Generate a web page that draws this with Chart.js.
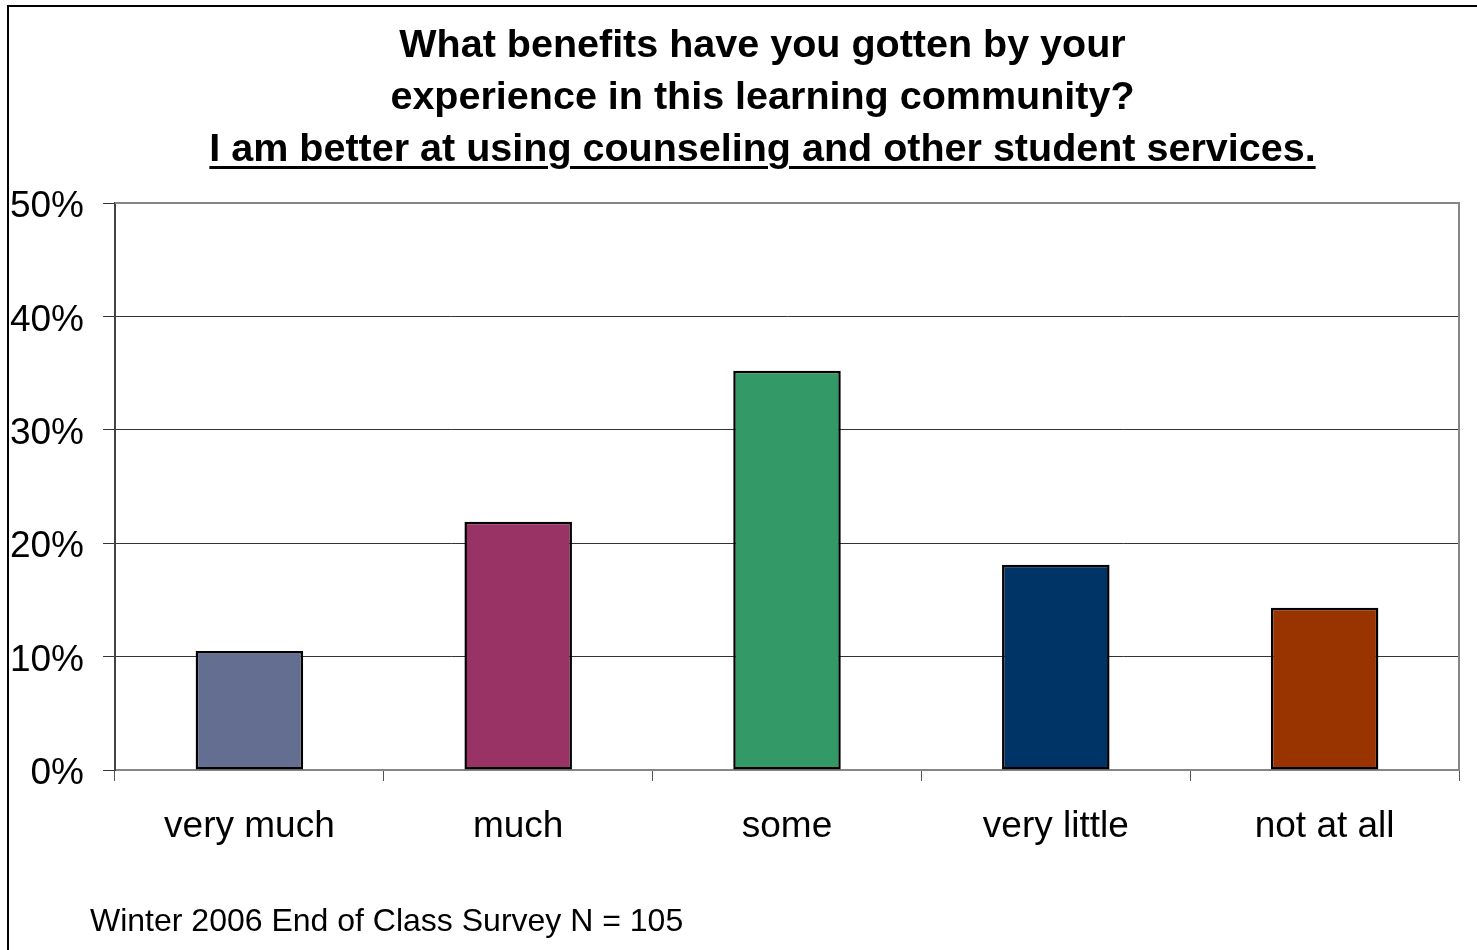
<!DOCTYPE html>
<html>
<head>
<meta charset="utf-8">
<script src="https://cdn.jsdelivr.net/npm/chart.js@4.4.1/dist/chart.umd.min.js"></script>
<style>
  html, body { margin: 0; padding: 0; background: #fff; }
  #wrap { position: relative; width: 1477px; height: 950px; overflow: hidden; font-family: "Liberation Sans", Arial, sans-serif; }
  #frame { position: absolute; left: 7px; top: 5px; right: -10px; bottom: -10px; border-top: 2px solid #000; border-left: 2px solid #000; }
  #title { position: absolute; left: 0; width: 1525px; top: 17px; text-align: center; font-weight: bold; font-size: 39.5px; line-height: 52px; color: #000; }
  #title u { text-decoration-thickness: 3px; text-underline-offset: 5px; }
  #note { position: absolute; left: 90px; top: 902px; font-size: 32px; color: #000; }
  canvas { position: absolute; left: 0; top: 0; }
</style>
</head>
<body>
<div id="wrap">
  <canvas id="benefitsChart" width="1477" height="950"></canvas>
  <div id="frame"></div>
  <div id="title">What benefits have you gotten by your<br>experience in this learning community?<br><u>I am better at using counseling and other student services.</u></div>
  <div id="note">Winter 2006 End of Class Survey N = 105</div>
</div>
<script>
const categories = ['very much', 'much', 'some', 'very little', 'not at all'];
// share of the 105 respondents, in percent
const percentages = [10.5, 21.9, 35.2, 18.1, 14.3];
const barColors = ['#636E90', '#993366', '#339966', '#003366', '#993300'];
const yTicks = [0, 10, 20, 30, 40, 50];

// gray frame on top and right of the plot area
const plotFrame = {
  id: 'plotFrame',
  afterDraw(chart) {
    const a = chart.chartArea;
    const ctx = chart.ctx;
    ctx.save();
    ctx.strokeStyle = '#868686';
    ctx.lineWidth = 2;
    ctx.beginPath();
    ctx.moveTo(a.left, a.top);
    ctx.lineTo(a.right, a.top);
    ctx.lineTo(a.right, a.bottom);
    ctx.stroke();
    ctx.restore();
  }
};

new Chart(document.getElementById('benefitsChart'), {
  type: 'bar',
  data: {
    labels: categories,
    datasets: [{
      data: percentages,
      backgroundColor: barColors,
      borderColor: '#000',
      borderWidth: 2.5,
      borderSkipped: false,
      barPercentage: 0.4,
      categoryPercentage: 1
    }]
  },
  plugins: [plotFrame],
  options: {
    responsive: false,
    animation: false,
    layout: { padding: { top: 203, right: 18, left: 0, bottom: 0 } },
    plugins: {
      legend: { display: false },
      tooltip: { enabled: false }
    },
    scales: {
      x: {
        afterFit(scale) { scale.height = 180; },
        grid: { drawOnChartArea: false, color: '#555', tickLength: 11, offset: true },
        border: { color: '#868686', width: 2 },
        ticks: { color: '#000', padding: 24, font: { family: 'Liberation Sans', size: 37 } }
      },
      y: {
        min: 0,
        max: 50,
        afterFit(scale) { scale.width = 115; },
        afterBuildTicks(scale) { scale.ticks = yTicks.map(v => ({ value: v })); },
        grid: { color: '#333', lineWidth: 1, tickLength: 12 },
        border: { color: '#444', width: 2 },
        ticks: {
          color: '#000',
          padding: 19,
          labelOffset: 4,
          font: { family: 'Liberation Sans', size: 37 },
          callback: v => v + '%'
        }
      }
    }
  }
});
</script>
</body>
</html>
